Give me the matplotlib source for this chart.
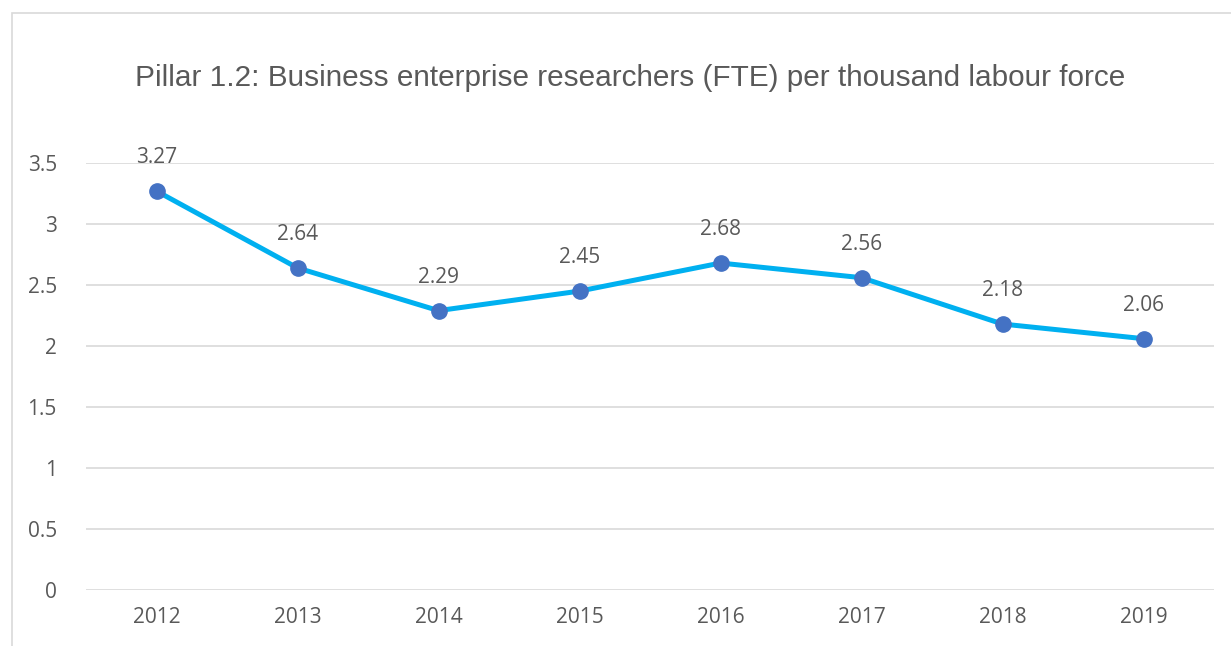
import matplotlib.pyplot as plt
from matplotlib.patches import Rectangle

years = ["2012", "2013", "2014", "2015", "2016", "2017", "2018", "2019"]
researchers = [3.27, 2.64, 2.29, 2.45, 2.68, 2.56, 2.18, 2.06]
y_ticks = [0, 0.5, 1, 1.5, 2, 2.5, 3, 3.5]
y_tick_labels = ["0", "0.5", "1", "1.5", "2", "2.5", "3", "3.5"]

text_color = "#595959"
label_font = ["Open Sans", "DejaVu Sans"]

fig = plt.figure(figsize=(12.31, 6.46), dpi=100)
ax = fig.add_axes([86 / 1231, 1 - 590 / 646, 1128 / 1231, 427 / 646])

# chart frame (only top and left edges are visible)
fig.patches.append(Rectangle((12 / 1231, -0.1), 1.2, 1 - 13 / 646 + 0.1,
                             transform=fig.transFigure, fill=False,
                             edgecolor="#d9d9d9", linewidth=1.2))

x = list(range(len(years)))
ax.plot(x, researchers, color="#00B0F0", linewidth=3.6, zorder=3,
        marker="o", markersize=11, markerfacecolor="#4472C4",
        markeredgecolor="#4472C4")

for xi, v in zip(x, researchers):
    ax.annotate(f"{v:.2f}", (xi, v), xytext=(0, 24), textcoords="offset points",
                ha="center", va="center", fontsize=15, color=text_color,
                family=label_font)

ax.set_xlim(-0.5, len(years) - 0.5)
ax.set_ylim(0, 3.5)
ax.set_xticks(x)
ax.set_xticklabels(years)
ax.set_yticks(y_ticks)
ax.set_yticklabels(y_tick_labels)
for lbl in ax.get_xticklabels() + ax.get_yticklabels():
    lbl.set_family(label_font)
    lbl.set_fontsize(15)
    lbl.set_color(text_color)
ax.tick_params(axis="both", length=0)
ax.tick_params(axis="x", pad=12)
ax.tick_params(axis="y", pad=21)

ax.grid(axis="y", color="#d9d9d9", linewidth=1.2)
ax.set_axisbelow(True)
for s in ax.spines.values():
    s.set_visible(False)
for line in ax.get_lines():
    line.set_clip_on(False)

fig.text(630 / 1231, 1 - 78 / 646,
         "Pillar 1.2: Business enterprise researchers (FTE) per thousand labour force",
         ha="center", va="center", fontsize=21.4, color=text_color,
         family=["Liberation Sans", "DejaVu Sans"])

fig.savefig("out.png", dpi=100)
